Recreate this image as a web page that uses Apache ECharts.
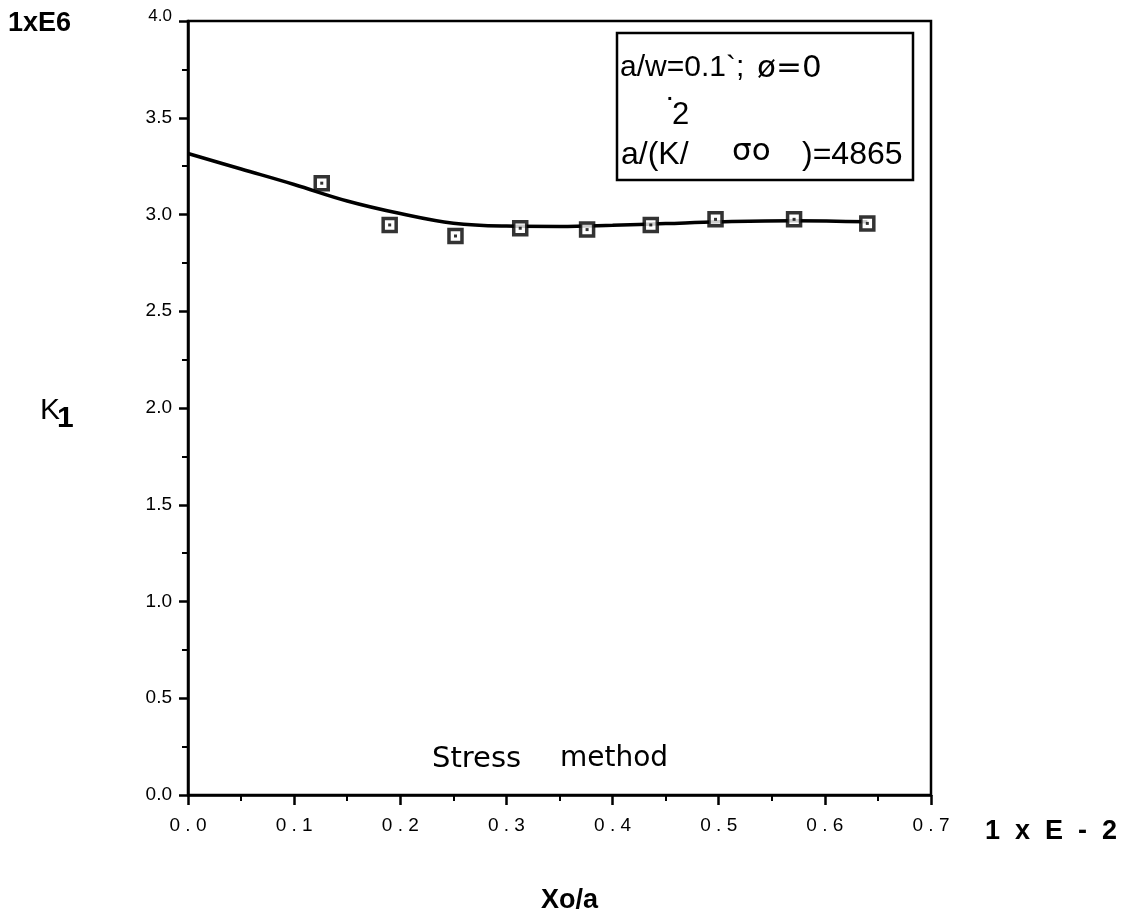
<!DOCTYPE html>
<html>
<head>
<meta charset="utf-8">
<script src="https://cdn.jsdelivr.net/npm/echarts@6/dist/echarts.min.js"></script>
<style>html,body{margin:0;padding:0;background:#fff;}#c{width:1124px;height:921px;}</style>
</head>
<body>
<div id="c"></div>
<script>
// Data
var pointX = [0.126, 0.190, 0.252, 0.313, 0.376, 0.436, 0.497, 0.571, 0.640];
var pointY = [3.162, 2.946, 2.889, 2.929, 2.922, 2.946, 2.975, 2.975, 2.954];
var curveX = [0, 0.05, 0.10, 0.15, 0.20, 0.25, 0.30, 0.35, 0.40, 0.45, 0.50, 0.57, 0.64];
var curveY = [3.315, 3.235, 3.155, 3.07, 3.005, 2.955, 2.94, 2.938, 2.944, 2.953, 2.962, 2.968, 2.962];
var xTicks = [0, 0.7, 0.1];
var yTicks = [0, 4, 0.5];

var pts = pointX.map(function (x, i) { return [x, pointY[i]]; });
var curve = curveX.map(function (x, i) { return [x, curveY[i]]; });
var FONT = '"Liberation Sans", Arial, sans-serif';

var chart = echarts.init(document.getElementById('c'), null, {renderer: 'canvas'});
chart.setOption({
  backgroundColor: '#fff',
  animation: false,
  grid: {left: 188, right: 193, top: 21, bottom: 126, show: true, borderColor: '#000', borderWidth: 2.5, backgroundColor: 'transparent'},
  xAxis: {
    type: 'value', min: xTicks[0], max: xTicks[1], interval: xTicks[2],
    axisLine: {show: true, onZero: false, lineStyle: {color: '#000', width: 2.5}},
    axisTick: {show: true, inside: false, length: 10, lineStyle: {color: '#000', width: 2.5}},
    minorTick: {show: true, splitNumber: 2, length: 6, lineStyle: {color: '#000', width: 2}},
    splitLine: {show: false},
    axisLabel: {margin: 21, color: '#000', fontSize: 19, fontFamily: FONT,
      formatter: function (v) { return v.toFixed(1).split('').join(' '); }}
  },
  yAxis: {
    type: 'value', min: yTicks[0], max: yTicks[1], interval: yTicks[2],
    axisLine: {show: true, onZero: false, lineStyle: {color: '#000', width: 2.5}},
    axisTick: {show: true, inside: false, length: 9, lineStyle: {color: '#000', width: 2.5}},
    minorTick: {show: true, splitNumber: 2, length: 6, lineStyle: {color: '#000', width: 2}},
    splitLine: {show: false},
    axisLabel: {margin: 16, color: '#000', fontSize: 19, fontFamily: FONT,
      formatter: function (v) { return v === 4 ? '{s|4.0}' : v.toFixed(1); },
      rich: {s: {fontSize: 17, fontFamily: FONT, color: '#000', padding: [0, 0, 10, 0]}}}
  },
  series: [
    {type: 'line', data: curve, smooth: 0.4, showSymbol: false, symbol: 'none',
     lineStyle: {color: '#000', width: 3.5}, z: 2},
    {type: 'scatter', data: pts, symbol: 'rect', symbolSize: 13,
     itemStyle: {color: '#fff', borderColor: '#000', borderWidth: 3.5}, z: 3},
    {type: 'scatter', data: pts, symbol: 'rect', symbolSize: 3,
     itemStyle: {color: '#000'}, z: 4}
  ],
  graphic: [
    {type: 'text', left: 8, top: 10, style: {text: '1xE6', font: 'bold 27px ' + FONT, fill: '#000'}},
    {type: 'text', left: 985, top: 818, style: {text: '1  x  E  -  2', font: 'bold 27px ' + FONT, fill: '#000'}},
    {type: 'text', left: 541, top: 887, style: {text: 'Xo/a', font: 'bold 27px ' + FONT, fill: '#000'}},
    {type: 'text', left: 40, top: 396, style: {text: 'K', font: '30px ' + FONT, fill: '#000'}},
    {type: 'text', left: 57, top: 404, style: {text: '1', font: 'bold 30px ' + FONT, fill: '#000'}},
    {type: 'text', left: 432, top: 745, style: {text: 'Stress', font: '29px "DejaVu Sans", sans-serif', fill: '#000'}},
    {type: 'text', left: 560, top: 745, style: {text: 'method', font: '28px "DejaVu Sans", sans-serif', fill: '#000'}},
    {type: 'rect', shape: {x: 617, y: 33, width: 296, height: 147}, style: {fill: '#fff', stroke: '#000', lineWidth: 2.5}},
    {type: 'text', left: 620, top: 53, style: {text: 'a/w=0.1`;', font: '30px ' + FONT, fill: '#000'}},
    {type: 'text', left: 757, top: 53, style: {text: 'ø=0', font: '31px "DejaVu Sans", sans-serif', fill: '#000'}},
    {type: 'text', left: 667, top: 84, style: {text: '.', font: 'bold 20px ' + FONT, fill: '#000'}},
    {type: 'text', left: 672, top: 100, style: {text: '2', font: '31px ' + FONT, fill: '#000'}},
    {type: 'text', left: 621, top: 139, style: {text: 'a/(K/', font: '32px ' + FONT, fill: '#000'}},
    {type: 'text', left: 732, top: 136, style: {text: 'σo', font: '31px "DejaVu Sans", sans-serif', fill: '#000'}},
    {type: 'text', left: 802, top: 139, style: {text: ')=4865', font: '32px ' + FONT, fill: '#000'}}
  ]
});
</script>
</body>
</html>
